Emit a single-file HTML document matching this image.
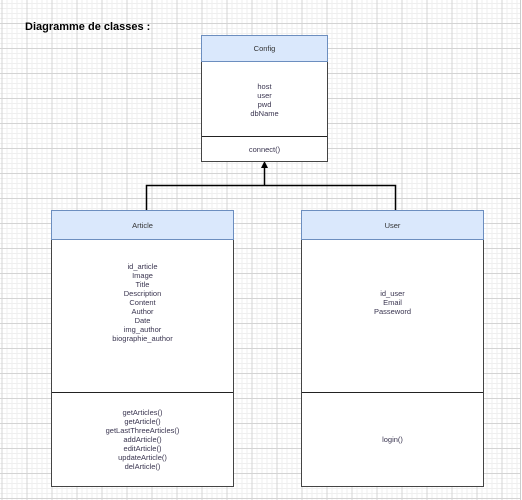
<!DOCTYPE html>
<html><head><style>
html,body{margin:0;padding:0;}
body{width:522px;height:500px;position:relative;overflow:hidden;background:#fff;font-family:"Liberation Sans",sans-serif;}
.g{position:absolute;left:0;top:0;}
.box{position:absolute;background:#fff;border:1.5px solid #444;box-sizing:border-box;}
.hd{position:absolute;left:0;right:0;top:0;background:#dae8fc;border-bottom:1.5px solid #6c8ebf;box-sizing:border-box;font-size:7.5px;color:#333;text-align:center;}
.hb{position:absolute;border:1.5px solid #6c8ebf;box-sizing:border-box;}
.sec{position:absolute;left:0;right:0;display:flex;align-items:center;justify-content:center;text-align:center;font-size:7.5px;line-height:9px;color:#3a3550;}
.div{position:absolute;left:0;right:0;border-top:1.5px solid #222;}
.t{position:absolute;font-size:11px;font-weight:bold;left:25px;top:21px;color:#000;}
</style></head><body>
<svg class="g" width="522" height="500">
<defs>
<pattern id="mi" width="5" height="5" patternUnits="userSpaceOnUse" x="1.5" y="-2">
<path d="M0.5 0V5M0 0.5H5" stroke="#efefef" stroke-width="1" fill="none"/></pattern>
<pattern id="ma" width="25" height="25" patternUnits="userSpaceOnUse" x="1.5" y="-2">
<path d="M0.5 0V25M0 0.5H25" stroke="#d4d4d4" stroke-width="1" fill="none"/></pattern>
</defs>
<rect width="520" height="500" fill="url(#mi)"/>
<rect width="520" height="500" fill="url(#ma)"/>
<line x1="520.5" y1="0" x2="520.5" y2="500" stroke="#ccc"/>
<path d="M146.5 210V185.5H395.5V210M264.5 185V166" stroke="#000" stroke-width="1.5" fill="none"/>
<path d="M264.5 161L261 168L268 168Z" fill="#000"/>
</svg>
<div class="t">Diagramme de classes :</div>

<div class="box" style="left:201px;top:35px;width:127px;height:127px;">
<div class="hd" style="height:26px;line-height:26px;">Config</div>
<div class="sec" style="top:26px;height:75px;">host<br>user<br>pwd<br>dbName</div>
<div class="div" style="top:100px;"></div>
<div class="sec" style="top:101px;height:24px;">connect()</div>
</div>
<div class="hb" style="left:201px;top:35px;width:127px;height:27px;"></div>

<div class="box" style="left:51px;top:210px;width:183px;height:277px;">
<div class="hd" style="height:29px;line-height:29px;">Article</div>
<div class="sec" style="top:29px;height:125px;">id_article<br>Image<br>Title<br>Description<br>Content<br>Author<br>Date<br>img_author<br>biographie_author</div>
<div class="div" style="top:181px;"></div>
<div class="sec" style="top:182px;height:93px;">getArticles()<br>getArticle()<br>getLastThreeArticles()<br>addArticle()<br>editArticle()<br>updateArticle()<br>delArticle()</div>
</div>
<div class="hb" style="left:51px;top:210px;width:183px;height:30px;"></div>

<div class="box" style="left:301px;top:210px;width:183px;height:277px;">
<div class="hd" style="height:29px;line-height:29px;">User</div>
<div class="sec" style="top:29px;height:125px;">id_user<br>Email<br>Passeword</div>
<div class="div" style="top:181px;"></div>
<div class="sec" style="top:182px;height:93px;">login()</div>
</div>
<div class="hb" style="left:301px;top:210px;width:183px;height:30px;"></div>
</body></html>
